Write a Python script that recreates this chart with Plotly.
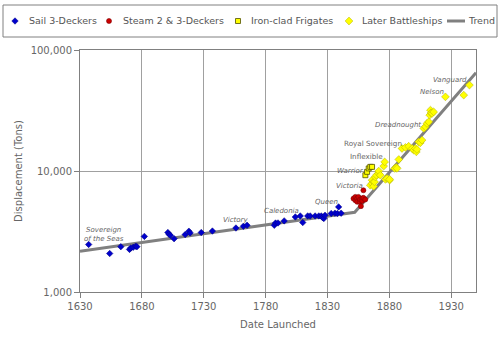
import math
import plotly.graph_objects as go

W, H = 500, 342

# ---------------- data ----------------
sail_years = [1637, 1654, 1663, 1670, 1671, 1673, 1675, 1676, 1682, 1701, 1702, 1703,
              1706, 1715, 1718, 1719, 1728, 1737, 1756, 1762, 1765, 1787, 1788, 1790,
              1795, 1804, 1808, 1810, 1814, 1816, 1820, 1823, 1825, 1826, 1827, 1828,
              1833, 1836, 1838, 1839, 1841]
sail_disp = [2470, 2080, 2370, 2250, 2310, 2340, 2390, 2370, 2880, 3100, 3000, 2940,
             2760, 2980, 3180, 3080, 3100, 3190, 3380, 3490, 3560, 3560, 3715, 3720,
             3870, 4170, 4250, 3750, 4250, 4250, 4250, 4250, 4250, 4120, 4050, 4300,
             4450, 4480, 4450, 5050, 4480]

steam_years = [1851, 1852.5, 1852.5, 1854, 1854, 1855, 1856, 1856.5, 1858, 1858,
               1857, 1859, 1859, 1860.5]
steam_disp = [5920, 5730, 6110, 5920, 5560, 6110, 5560, 5810, 5920, 5660,
              5120, 6000, 6930, 5810]

iron_years = [1860.6, 1862, 1863.3, 1864.6, 1866]
iron_disp = [9230, 9840, 10500, 10820, 10820]

later_years = [1864.6, 1866, 1866, 1867.3, 1867.3, 1868, 1868.7, 1869.5, 1871.4, 1871.4,
               1872.7, 1875.4, 1876.2, 1876.8, 1878.1, 1880.2, 1880.2, 1884.3, 1885.6,
               1886.2, 1887.6, 1890.2, 1893, 1895.6, 1898.4, 1899.7, 1901, 1901.8,
               1902.3, 1903.7, 1905, 1906.4, 1907.8, 1909.1, 1910.4, 1911.8, 1912.6,
               1913.2, 1913.7, 1914.5, 1915.8, 1925.3, 1940.1, 1944.7]
later_disp = [7620, 7880, 8400, 8130, 7480, 8130, 8930, 9230, 9530, 9990,
              9230, 10970, 11890, 8530, 8670, 8400, 8530, 10500, 10700,
              10500, 12450, 15350, 15650, 16020, 15350, 14860, 15350, 14390,
              15080, 17410, 17100, 17990, 22500, 23200, 24700, 25470, 28960,
              31840, 30270, 29900, 30800, 41000, 42370, 51300]

trend_years = [1630, 1852, 1950]
trend_disp = [2170, 4560, 65000]

label_names = ["Sovereign<br>of the Seas", "Victory", "Caledonia", "Queen", "Victoria",
               "Warrior", "Inflexible", "Royal Sovereign", "Dreadnought", "Nelson", "Vanguard"]
label_years = [1649.4, 1756, 1793.2, 1828.8, 1847.4, 1848.2, 1861.7, 1866.8, 1886.6,
               1914.4, 1929]
label_disp = [2960, 3940, 4700, 5510, 7570, 10000, 13300, 16950, 23990, 44700, 56500]
label_italic = [True, True, True, True, True, True, False, False, True, True, True]

x_ticks = [1630, 1680, 1730, 1780, 1830, 1880, 1930]
y_ticks = [1000, 10000, 100000]
y_ticktext = ["1,000", "10,000", "100,000"]

legend_names = ["Sail 3-Deckers", "Steam 2 & 3-Deckers", "Iron-clad Frigates",
                "Later Battleships", "Trend"]

# ---------------- styles ----------------
FONT = "DejaVu Sans"
GRAY_TXT = "#666666"
styles = [
    dict(symbol="diamond", size=5, color="#0000CC", line=dict(color="#000080", width=0.5)),
    dict(symbol="circle", size=5, color="#CC0000", line=dict(color="#800000", width=0.6)),
    dict(symbol="square", size=5, color="#FFFF00", line=dict(color="#505000", width=0.8)),
    dict(symbol="diamond", size=6, color="#FFFF00", line=dict(color="#B0B000", width=0.5)),
]

# plot area in pixels
PL, PR, PT, PB = 80, 476, 50, 292

fig = go.Figure()

fig.add_trace(go.Scatter(x=trend_years, y=trend_disp, mode="lines",
                         line=dict(color="#808080", width=3), showlegend=False,
                         hoverinfo="skip"))
series = [(sail_years, sail_disp), (steam_years, steam_disp),
          (iron_years, iron_disp), (later_years, later_disp)]
for (xs, ys), st, nm in zip(series, styles, legend_names):
    fig.add_trace(go.Scatter(x=xs, y=ys, mode="markers", name=nm, marker=st,
                             showlegend=False))

# ship labels (annotation y on a log axis is given in log10 units)
for nm, xv, yv, it in zip(label_names, label_years, label_disp, label_italic):
    fig.add_annotation(x=xv, y=math.log10(yv), xref="x", yref="y", text=nm,
                       showarrow=False, xanchor="center", yanchor="middle",
                       font=dict(family=FONT, size=7 if it else 7.2, color=GRAY_TXT,
                                 style="italic" if it else "normal"))

# ---------------- custom legend (overlay pixel axes) ----------------
leg_marker_x = [15, 109, 238, 349]
leg_text_x = [27, 121, 249, 360, 466]
LEG_Y = 21
for i, st in enumerate(styles):
    fig.add_trace(go.Scatter(x=[leg_marker_x[i]], y=[LEG_Y], mode="markers",
                             marker=st, xaxis="x2", yaxis="y2", showlegend=False,
                             hoverinfo="skip"))
fig.add_trace(go.Scatter(x=[447, 465], y=[LEG_Y, LEG_Y], mode="lines",
                         line=dict(color="#808080", width=3), xaxis="x2", yaxis="y2",
                         showlegend=False, hoverinfo="skip"))
for nm, tx in zip(legend_names, leg_text_x):
    fig.add_annotation(x=tx / W, y=1 - LEG_Y / H, xref="paper", yref="paper", text=nm,
                       showarrow=False, xanchor="left", yanchor="middle",
                       font=dict(family=FONT, size=9.5, color="#555555"))
fig.add_shape(type="rect", xref="paper", yref="paper", x0=3 / W, x1=497 / W,
              y0=1 - 37 / H, y1=1 - 5 / H, line=dict(color="#808080", width=1))

fig.update_layout(
    width=W, height=H, margin=dict(l=0, r=0, t=0, b=0, autoexpand=False),
    paper_bgcolor="white", plot_bgcolor="rgba(0,0,0,0)",
    font=dict(family=FONT, size=10, color=GRAY_TXT),
    xaxis=dict(domain=[PL / W, PR / W], range=[1630, 1950], tickvals=x_ticks,
               automargin=False,
               showgrid=True, gridcolor="#A0A0A0", gridwidth=1,
               showline=True, linecolor="#808080", linewidth=1, mirror=True,
               ticks="outside", ticklen=5, tickcolor="#808080", zeroline=False,
               tickfont=dict(family=FONT, size=10, color=GRAY_TXT),
               title=dict(text="Date Launched", standoff=9,
                          font=dict(family=FONT, size=10, color=GRAY_TXT))),
    yaxis=dict(domain=[1 - PB / H, 1 - PT / H], type="log", range=[3, 5],
               tickvals=y_ticks, ticktext=y_ticktext, automargin=False,
               showgrid=True, gridcolor="#A0A0A0", gridwidth=1,
               showline=True, linecolor="#808080", linewidth=1, mirror=True,
               ticks="outside", ticklen=5, tickcolor="#808080", zeroline=False,
               tickfont=dict(family=FONT, size=10, color=GRAY_TXT),
               title=dict(text="Displacement (Tons)", standoff=6,
                          font=dict(family=FONT, size=10, color=GRAY_TXT))),
    xaxis2=dict(domain=[0, 1], range=[0, W], anchor="y2", visible=False,
                fixedrange=True, automargin=False),
    yaxis2=dict(domain=[0, 1], range=[H, 0], anchor="x2", visible=False,
                fixedrange=True, automargin=False),
    showlegend=False,
)

fig.write_html("out.html")
